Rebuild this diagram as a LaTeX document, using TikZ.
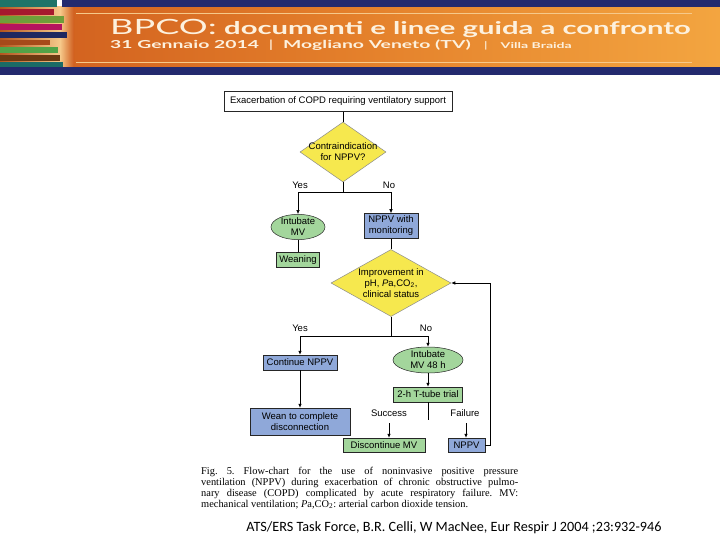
\documentclass[tikz,border=0pt]{standalone}
\usepackage{fontspec}
\setmainfont{Liberation Serif}
\newfontfamily\flowfont{Liberation Sans}
\newfontfamily\headfont{Lato}
\newfontfamily\reffont{Carlito}
\usetikzlibrary{shapes.geometric,arrows.meta}
\definecolor{navyband}{HTML}{232A6E}
\definecolor{orangeL}{HTML}{CF5C1D}
\definecolor{orangeM}{HTML}{E4802B}
\definecolor{orangeR}{HTML}{F3A540}
\definecolor{creamtxt}{HTML}{FDF1DE}
\definecolor{creamline}{HTML}{F6C98A}
\definecolor{dyellow}{HTML}{F6E84E}
\definecolor{fgreen}{HTML}{A3D69C}
\definecolor{fblue}{HTML}{8FA8D9}
\definecolor{sTeal}{HTML}{1F7468}
\definecolor{sRed}{HTML}{A6192E}
\definecolor{sGreen}{HTML}{6E9E3A}
\definecolor{sMag}{HTML}{B5135E}
\definecolor{sNavy}{HTML}{1F2860}
\definecolor{sBrownO}{HTML}{A6491A}
\definecolor{sGreen2}{HTML}{52A347}
\definecolor{sBrown}{HTML}{6B3A12}
\definecolor{sTeal2}{HTML}{1B6B66}
\tikzset{
  ffont/.style={font=\flowfont\fontsize{9.5}{11}\selectfont},
  box/.style={ffont, draw=black!85, line width=0.5pt, inner sep=0pt, align=center},
  gbox/.style={box, fill=fgreen},
  bbox/.style={box, fill=fblue},
  oval/.style={box, ellipse, fill=fgreen},
  dia/.style={box, diamond, fill=dyellow, draw=black!45},
  lbl/.style={ffont, inner sep=0pt},
  ln/.style={line width=0.6pt},
  arr/.style={line width=0.6pt, -{Latex[length=4pt,width=3.5pt]}},
  capt/.style={font=\frenchspacing\fontsize{10.4}{11}\selectfont, inner sep=0pt, anchor=base west},
  headtxt/.style={anchor=base west, inner sep=0pt, text=creamtxt},
}
\begin{document}
\begin{tikzpicture}[x=1pt,y=-1pt]
\useasboundingbox (0,0) rectangle (720,540);
\fill[white] (0,0) rectangle (720,540);
% ---------- banner ----------
\shade[left color=orangeL, right color=orangeR, middle color=orangeM] (0,7) rectangle (720,67);
\shade[left color=sBrownO!80!orangeM, right color=creamline] (0,7) rectangle (60,67);
\shade[left color=creamline, right color=orangeL] (60,7) rectangle (74,67);
\fill[navyband] (62,0) rectangle (720,7.5);
\fill[navyband] (0,67) rectangle (720,75);
\draw[creamline, line width=0.8pt] (76,13) -- (692,13);
\draw[creamline, line width=0.8pt] (76,62) -- (692,62);
\fill[sTeal] (0,0) rectangle (57,7);
\fill[sRed] (0,9) rectangle (54,15);
\fill[sGreen] (0,16.5) rectangle (64,23);
\fill[sMag] (0,24.5) rectangle (62,30);
\fill[sNavy] (0,32) rectangle (67,38);
\fill[sBrownO] (0,40) rectangle (50,45.5);
\fill[sGreen2] (0,47.5) rectangle (58,53.5);
\fill[sBrown] (0,55) rectangle (60,61);
\fill[sTeal2] (0,62.5) rectangle (63,67);
\node[headtxt, font=\headfont\fontsize{21}{21}\selectfont] (t1) at (110,35) {\scalebox{1.72}[1]{BPCO:}};
\node[headtxt, font=\headfont\bfseries\fontsize{17.5}{18}\selectfont] (t2) at (224,35) {\scalebox{1.67}[1]{documenti e linee guida a confronto}};
\node[headtxt, font=\headfont\bfseries\fontsize{11}{12}\selectfont] (t3) at (110,49) {\scalebox{1.76}[1]{31 Gennaio 2014\enspace{\mdseries|}\enspace Mogliano Veneto (TV)\enspace\,{\mdseries\fontsize{9}{9}\selectfont|}\enspace\,{\fontsize{8}{8}\selectfont Villa Braida}}};
% ---------- flowchart ----------
\node[box, minimum width=228pt, minimum height=20pt] (top) at (338,101.5) {Exacerbation of COPD requiring ventilatory support};
\node[dia, minimum width=86pt, minimum height=60pt, label={[lbl, align=center]center:Contraindication\\for NPPV?}] (d1) at (343,152) {};
\coordinate (j1) at (343,192);
\node[lbl] (yes1) at (300,185) {Yes};
\node[lbl] (no1) at (389,185) {No};
\node[oval, minimum width=54pt, minimum height=25pt] (e1) at (298,227) {Intubate\\MV};
\node[bbox, minimum width=54pt, minimum height=25pt] (nm) at (391,226) {NPPV with\\monitoring};
\node[gbox, minimum width=43pt, minimum height=15pt] (wng) at (298,260) {Weaning};
\node[dia, minimum width=120pt, minimum height=67pt, label={[lbl, align=center]center:Improvement in\\pH, \textit{P}a,CO\textsubscript{2},\\clinical status}] (d2) at (391,283) {};
\coordinate (j2) at (391,336);
\node[lbl] (yes2) at (300,328) {Yes};
\node[lbl] (no2) at (426,328) {No};
\node[bbox, minimum width=74pt, minimum height=15pt] (cont) at (300,362.5) {Continue NPPV};
\node[oval, minimum width=70pt, minimum height=26pt] (e2) at (428,360) {Intubate\\MV 48 h};
\node[gbox, minimum width=69pt, minimum height=15pt] (tt) at (428,394.5) {2-h T-tube trial};
\node[bbox, minimum width=100pt, minimum height=27pt] (wean) at (300,421.5) {Wean to complete\\disconnection};
\coordinate (stub) at (428,420);
\node[lbl] (succ) at (389,413) {Success};
\node[lbl] (fail) at (465,413) {Failure};
\coordinate (sa) at (389,423);
\coordinate (fa) at (466,423);
\node[gbox, minimum width=82pt, minimum height=14pt] (disc) at (384,445) {Discontinue MV};
\node[bbox, minimum width=37pt, minimum height=14pt] (nppv) at (466.5,445) {NPPV};
\coordinate (fb) at (490,445);
% connectors
\draw[ln] (top.south -| d1.north) -- (d1.north);
\draw[ln] (d1.south) -- (j1);
\draw[arr] (j1) -| (e1.north);
\draw[arr] (j1) -| (nm.north);
\draw[ln] (e1.south) -- (wng.north);
\draw[ln] (nm.south) -- (d2.north);
\draw[ln] (d2.south) -- (j2);
\draw[arr] (j2) -| (cont.north);
\draw[arr] (j2) -| (e2.north);
\draw[arr] (cont.south) -- (wean.north);
\draw[arr] (e2.south) -- (tt.north);
\draw[ln] (tt.south) -- (stub);
\draw[arr] (sa) -- (sa |- disc.north);
\draw[arr] (fa) -- (fa |- nppv.north);
\draw[arr] (nppv.east) -- (fb) |- (d2.east);
% ---------- caption ----------
\node[capt] (c1) at (201,474) {\hbox to 317pt{Fig. 5. Flow-chart for the use of noninvasive positive pressure}};
\node[capt] (c2) at (201,485) {\hbox to 317pt{ventilation (NPPV) during exacerbation of chronic obstructive pulmo-}};
\node[capt] (c3) at (201,496) {\hbox to 317pt{nary disease (COPD) complicated by acute respiratory failure. MV:}};
\node[capt] (c4) at (201,507) {mechanical ventilation; \textit{P}a,CO\textsubscript{2}: arterial carbon dioxide tension.};
% ---------- reference ----------
\node[anchor=base, inner sep=0pt, font=\reffont\fontsize{14.2}{14}\selectfont] (ref) at (454,531) {ATS/ERS Task Force, B.R. Celli, W MacNee, Eur Respir J 2004 ;23:932-946};
\end{tikzpicture}
\end{document}
